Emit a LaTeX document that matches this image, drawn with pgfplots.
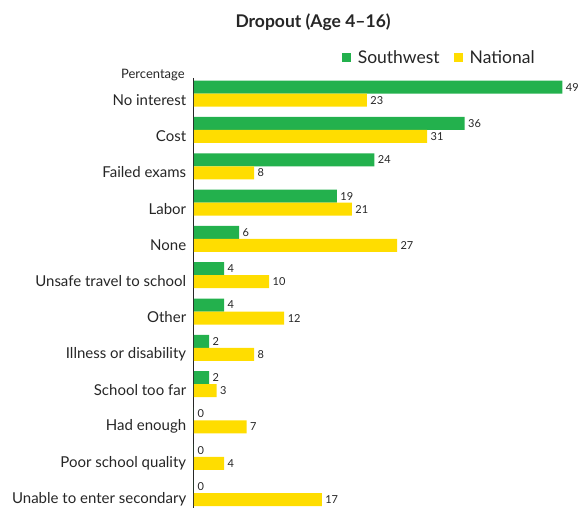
\documentclass[border=0pt]{standalone}
\usepackage{pgfplots}
\pgfplotsset{compat=1.18}
\usepackage{fontspec}
\setmainfont{Lato}
\definecolor{swgreen}{RGB}{35,177,77}
\definecolor{natyellow}{RGB}{255,221,0}
\begin{document}
\begin{tikzpicture}
\path[use as bounding box] (-194pt,0pt) rectangle (388pt,508pt);
\begin{axis}[
    at={(0pt,0pt)}, anchor=south west,
    scale only axis, width=388pt, height=430pt,
    xmin=0, xmax=51.6, ymin=-0.43, ymax=11.41,
    y dir=reverse,
    xbar=0pt, bar width=13pt,
    axis x line=none,
    axis y line*=left,
    y axis line style={line width=1pt, color=black!85, -},
    ytick={0,...,11},
    yticklabels={No interest,Cost,Failed exams,Labor,None,Unsafe travel to school,Other,Illness or disability,School too far,Had enough,Poor school quality,Unable to enter secondary},
    ytick style={draw=none},
    yticklabel style={font=\fontsize{15}{17}\selectfont, text=black!85, yshift=-6pt},
    /pgf/number format/assume math mode=true,
    nodes near coords,
    every node near coord/.append style={font=\fontsize{11}{13}\selectfont, text=black!85, xshift=0pt},
    legend columns=2,
    legend style={at={(axis description cs:0.632,1.047)}, anchor=center, draw=none,
        font=\fontsize{17.5}{20}\selectfont, text=black!85,
        /tikz/every odd column/.append style={column sep=5pt},
        /tikz/every even column/.append style={column sep=12pt}},
    legend image code/.code={\fill[#1] (0pt,-4.5pt) rectangle (9pt,4.5pt);},
    clip=false,
]
\addplot[fill=swgreen, draw=none, bar shift=6.5pt] coordinates {
    (49,0) (36,1) (24,2) (19,3) (6,4) (4,5) (4,6) (2,7) (2,8) (0,9) (0,10) (0,11)
};
\addplot[fill=natyellow, draw=none, bar shift=-6.5pt] coordinates {
    (23,0) (31,1) (8,2) (21,3) (27,4) (10,5) (12,6) (8,7) (3,8) (7,9) (4,10) (17,11)
};
\legend{Southwest,National}
\node[font=\bfseries\fontsize{17.5}{20}\selectfont, text=black!85] at (axis description cs:0.307,1.130) {Dropout (Age 4--16)};
\node[anchor=east, font=\fontsize{13}{15}\selectfont, text=black!85] at (axis description cs:-0.015,1.008) {Percentage};
\end{axis}
\end{tikzpicture}
\end{document}
